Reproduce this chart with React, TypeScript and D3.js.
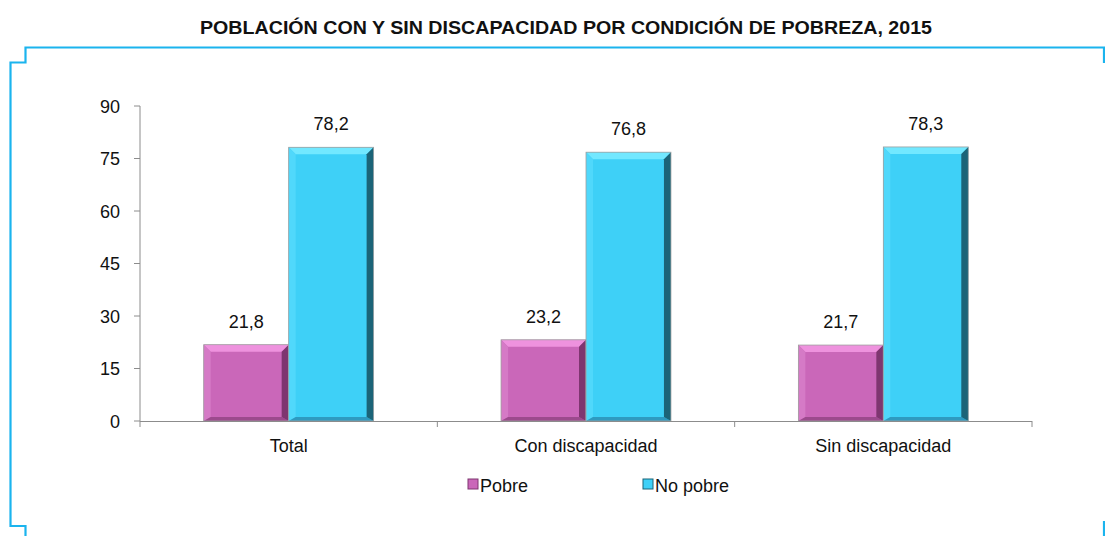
import * as d3 from 'd3';

const categories = ['Total', 'Con discapacidad', 'Sin discapacidad'];
const seriesNames = ['Pobre', 'No pobre'];
const pobre = [21.8, 23.2, 21.7];
const noPobre = [78.2, 76.8, 78.3];
const yTicks = [0, 15, 30, 45, 60, 75, 90];

const W = 1105;
const H = 536;
const FONT = '"Liberation Sans Narrow", "Arial Narrow", "Liberation Sans", Arial, sans-serif';

const palette = [
  { base: '#ca67b9', light: '#ee92de', side: '#d57ac6', dark: '#7e3670', edge: '#9c4a8d' },
  { base: '#3ed0f7', light: '#72e8ff', side: '#50d8fb', dark: '#1b6478', edge: '#2e9ac0' },
];

const fmt = (v: number) => v.toFixed(1).replace('.', ',');

function Bar({ x, y, w, h, c }: { x: number; y: number; w: number; h: number; c: typeof palette[0] }) {
  const b = Math.min(7, h / 3);
  const bb = Math.min(4, h / 4);
  const x2 = x + w;
  const y2 = y + h;
  return (
    <g>
      <rect x={x} y={y} width={w} height={h} fill={c.base} />
      <polygon points={`${x},${y} ${x2},${y} ${x2 - b},${y + b} ${x + b},${y + b}`} fill={c.light} />
      <polygon points={`${x},${y} ${x + b},${y + b} ${x + b},${y2 - bb} ${x},${y2}`} fill={c.side} />
      <polygon points={`${x},${y2} ${x + b},${y2 - bb} ${x2 - b},${y2 - bb} ${x2},${y2}`} fill={c.edge} />
      <polygon points={`${x2},${y} ${x2},${y2} ${x2 - b},${y2 - bb} ${x2 - b},${y + b}`} fill={c.dark} />
      <rect x={x} y={y} width={w} height={h} fill="none" stroke="#a0a0a0" strokeWidth={0.8} />
    </g>
  );
}

export default function App() {
  const left = 140;
  const right = 1032;
  const top = 106;
  const bottom = 421;

  const x = d3.scaleBand<string>().domain(categories).range([left, right]).paddingInner(0).paddingOuter(0);
  const inner = d3.scaleBand<string>().domain(seriesNames).range([0, x.bandwidth()]).paddingInner(0).paddingOuter(0.75);
  const y = d3.scaleLinear().domain([0, 90]).range([bottom, top]);

  const series = [pobre, noPobre];
  const boundaries = d3.range(categories.length + 1).map((i) => left + i * x.step());

  return (
    <svg width={W} height={H} style={{ position: 'absolute', left: 0, top: 0, background: '#fff' }} fontFamily={FONT}>
      <text
        x={566}
        y={34}
        textAnchor="middle"
        fontSize={19}
        fontWeight="bold"
        fill="#111"
        textLength={732}
        lengthAdjust="spacingAndGlyphs"
      >
        POBLACIÓN CON Y SIN DISCAPACIDAD POR CONDICIÓN DE POBREZA, 2015
      </text>

      <path
        d={`M1104,63 V47.5 H25.5 V62.5 H10.5 V526 H25.5 V536`}
        fill="none"
        stroke="#1bb4ee"
        strokeWidth={2.2}
      />
      <path d={`M1104,521 V536`} fill="none" stroke="#1bb4ee" strokeWidth={2.2} />

      {/* y axis */}
      <line x1={left} x2={left} y1={top} y2={bottom} stroke="#8c8c8c" />
      {yTicks.map((t) => (
        <g key={t}>
          <line x1={left - 6} x2={left} y1={y(t)} y2={y(t)} stroke="#8c8c8c" />
          <text x={left - 20} y={y(t) + 6.5} textAnchor="end" fontSize={18} fill="#111">
            {t}
          </text>
        </g>
      ))}

      {/* bars */}
      {categories.map((cat, ci) =>
        series.map((vals, si) => {
          const bx = (x(cat) ?? 0) + (inner(seriesNames[si]) ?? 0);
          const bw = inner.bandwidth();
          const by = y(vals[ci]);
          return (
            <g key={cat + si}>
              <Bar x={bx} y={by} w={bw} h={bottom - by} c={palette[si]} />
              <text x={bx + bw / 2} y={by - 17} textAnchor="middle" fontSize={18} fill="#111">
                {fmt(vals[ci])}
              </text>
            </g>
          );
        })
      )}

      {/* x axis */}
      <line x1={left} x2={right} y1={bottom + 0.5} y2={bottom + 0.5} stroke="#8c8c8c" />
      {boundaries.map((b, i) => (
        <line key={i} x1={b} x2={b} y1={bottom} y2={bottom + 6} stroke="#8c8c8c" />
      ))}
      {categories.map((cat) => (
        <text key={cat} x={(x(cat) ?? 0) + x.bandwidth() / 2} y={bottom + 31} textAnchor="middle" fontSize={18} fill="#111">
          {cat}
        </text>
      ))}

      {/* legend */}
      {seriesNames.map((name, i) => {
        const lx = i === 0 ? 468 : 643;
        return (
          <g key={name}>
            <rect x={lx} y={479} width={10} height={10} fill={palette[i].base} stroke={palette[i].dark} strokeWidth={1} />
            <text x={lx + 12} y={492} fontSize={18} fill="#111">
              {name}
            </text>
          </g>
        );
      })}
    </svg>
  );
}
